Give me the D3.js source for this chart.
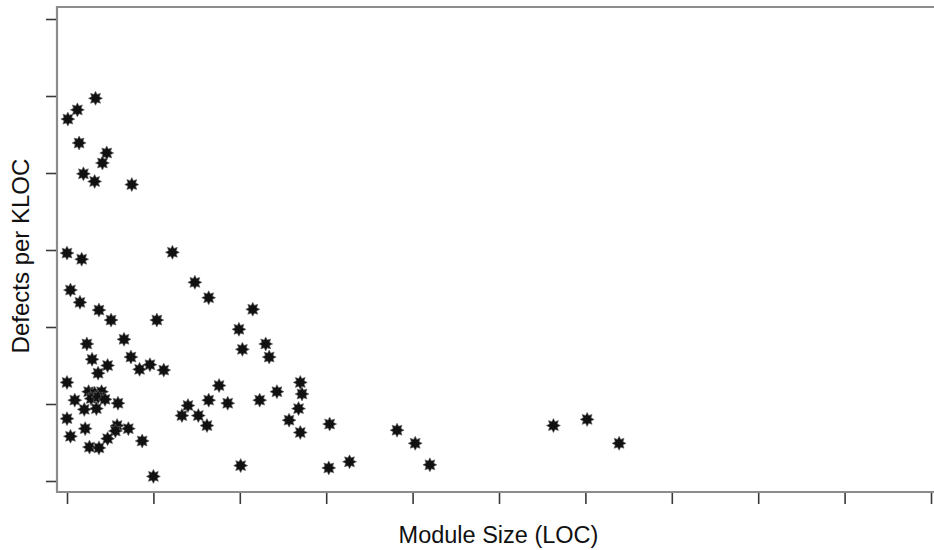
<!DOCTYPE html>
<html>
<head>
<meta charset="utf-8">
<script src="https://cdn.jsdelivr.net/npm/d3@7"></script>
<style>
  html, body { margin: 0; padding: 0; background: #fff; }
  svg { display: block; }
</style>
</head>
<body>
<svg id="chart" width="934" height="550"></svg>
<script>
// Module size (axis units, unlabeled) and defects per KLOC (axis units, unlabeled)
const moduleSize = [
  0.01, 0.12, 0.33, 0.14, 0.46, 0.41, 0.19, 0.32, 0.75,
  0.00, 0.17, 1.22, 0.04, 0.15, 0.37, 0.51, 1.04, 1.48, 1.64, 2.15,
  1.99, 2.03, 2.30, 2.34, 0.66, 0.23, 0.74, 0.29, 0.47, 0.36,
  0.84, 0.96, 1.12, 0.00, 2.70, 2.72, 1.76, 2.43, 2.23, 1.64,
  1.86, 1.40, 1.33, 1.52, 1.62, 2.68, 2.57, 2.70, 0.09, 0.25,
  0.32, 0.40, 0.28, 0.36, 0.44, 0.59, 0.20, 0.34, 0.00, 0.21,
  0.58, 0.56, 0.71, 0.04, 0.47, 0.87, 0.26, 0.37, 2.01, 1.00,
  3.04, 3.03, 3.27, 3.82, 4.03, 4.20, 5.63, 6.02, 6.39
];
const defectsPerKloc = [
  4.70, 4.82, 4.97, 4.39, 4.26, 4.13, 3.99, 3.89, 3.85,
  2.96, 2.88, 2.97, 2.48, 2.32, 2.22, 2.09, 2.09, 2.58, 2.38, 2.23,
  1.97, 1.71, 1.78, 1.61, 1.84, 1.78, 1.61, 1.58, 1.50, 1.40,
  1.45, 1.51, 1.44, 1.28, 1.28, 1.13, 1.24, 1.16, 1.05, 1.05,
  1.01, 0.98, 0.85, 0.85, 0.72, 0.94, 0.79, 0.63, 1.05, 1.16,
  1.14, 1.16, 1.07, 1.09, 1.06, 1.01, 0.93, 0.94, 0.81, 0.68,
  0.72, 0.65, 0.68, 0.58, 0.55, 0.52, 0.44, 0.43, 0.20, 0.06,
  0.74, 0.17, 0.25, 0.66, 0.49, 0.21, 0.72, 0.80, 0.49
];
const xTickValues = [0, 1, 2, 3, 4, 5, 6, 7, 8, 9, 10];
const yTickValues = [0, 1, 2, 3, 4, 5, 6];
const xLabel = "Module Size (LOC)";
const yLabel = "Defects per KLOC";

const data = moduleSize.map((x, i) => ({ x, y: defectsPerKloc[i] }));

const svg = d3.select("#chart");
const box = { left: 57, top: 7, right: 940, bottom: 492 };

const x = d3.scaleLinear().domain([0, 10]).range([67, 931]);
const y = d3.scaleLinear().domain([0, 6]).range([481, 19]);

// Plot frame (left, top, bottom lines; right edge runs off the canvas)
svg.append("path")
  .attr("d", `M${box.right},${box.top}H${box.left}V${box.bottom}H${box.right}`)
  .attr("fill", "none")
  .attr("stroke", "#8c8c8c")
  .attr("stroke-width", 2.2);

// Y axis ticks (no labels)
const yAxis = svg.append("g")
  .attr("transform", `translate(${box.left - 1},0)`)
  .call(d3.axisLeft(y).tickValues(yTickValues).tickSize(10).tickFormat(""));
yAxis.select(".domain").remove();
yAxis.selectAll(".tick line").attr("stroke", "#3a3a3a").attr("stroke-width", 1.6);

// X axis ticks (no labels)
const xAxis = svg.append("g")
  .attr("transform", `translate(0,${box.bottom + 1})`)
  .call(d3.axisBottom(x).tickValues(xTickValues).tickSize(11).tickFormat(""));
xAxis.select(".domain").remove();
xAxis.selectAll(".tick line").attr("stroke", "#3a3a3a").attr("stroke-width", 1.6);

// 8-pointed star marker
function starPath(rOuter, rInner, n) {
  const pts = [];
  for (let i = 0; i < 2 * n; i++) {
    const a = Math.PI * i / n - Math.PI / 2;
    const r = i % 2 === 0 ? rOuter : rInner;
    pts.push([r * Math.cos(a), r * Math.sin(a)]);
  }
  return "M" + pts.map(p => p[0].toFixed(2) + "," + p[1].toFixed(2)).join("L") + "Z";
}
const marker = starPath(7, 4.2, 8);

svg.append("g")
  .selectAll("path")
  .data(data)
  .join("path")
  .attr("transform", d => `translate(${x(d.x)},${y(d.y)})`)
  .attr("d", marker)
  .attr("fill", "#111")
  .attr("stroke", "#666")
  .attr("stroke-width", 0.6);

// Axis titles
svg.append("text")
  .attr("x", 498.5)
  .attr("y", 543)
  .attr("text-anchor", "middle")
  .attr("font-family", "Liberation Sans, Arial, Helvetica, sans-serif")
  .attr("font-size", 23.5)
  .attr("fill", "#111")
  .text(xLabel);

svg.append("text")
  .attr("transform", "translate(29,256) rotate(-90)")
  .attr("text-anchor", "middle")
  .attr("font-family", "Liberation Sans, Arial, Helvetica, sans-serif")
  .attr("font-size", 24)
  .attr("fill", "#111")
  .text(yLabel);
</script>
</body>
</html>
